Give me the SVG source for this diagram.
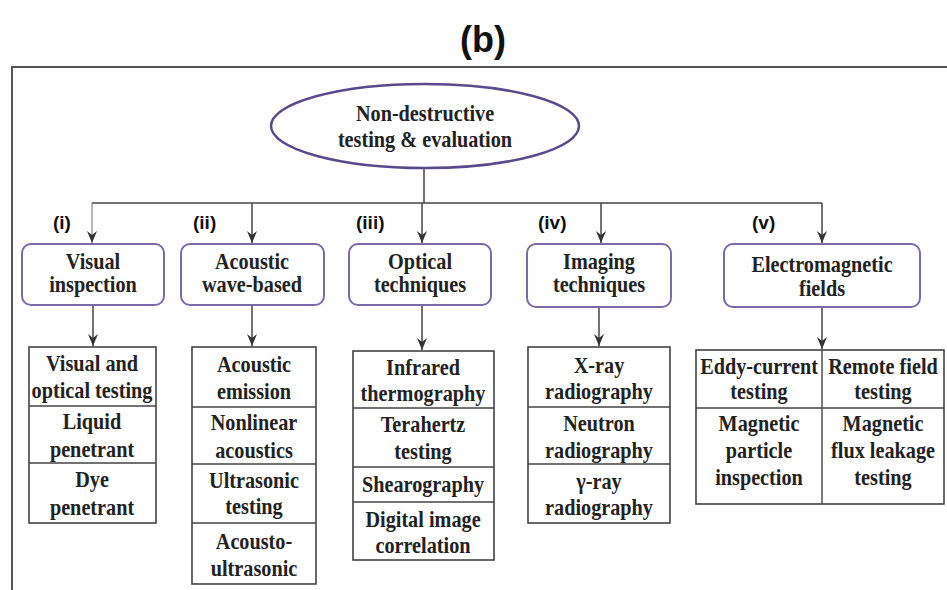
<svg xmlns="http://www.w3.org/2000/svg" width="947" height="590" viewBox="0 0 947 590">
  <style>
    .title { font-family: "Liberation Sans", Arial, sans-serif; font-weight: bold; fill: #111; }
    .tag { font-family: "Liberation Sans", Arial, sans-serif; font-weight: bold; font-size: 19px; fill: #111; }
    .t { font-family: "Liberation Serif", "Times New Roman", serif; font-weight: bold; font-size: 23px; fill: #222; text-anchor: middle;
         transform-box: fill-box; transform-origin: center; transform: scaleX(0.88); }
    .cat { fill: #fff; stroke: #7a6aa8; stroke-width: 2; }
    .cell { fill: #fff; stroke: #444; stroke-width: 1.6; }
    .div { stroke: #444; stroke-width: 1.4; fill: none; }
    .wire { stroke: #444; stroke-width: 1.5; fill: none; }
    .arrow { stroke: #444; stroke-width: 1.5; fill: none; marker-end: url(#head); }
    .faint { stroke: #888; stroke-width: 1.2; }
  </style>
  <defs>
    <!-- notched arrowhead, tip on the line end -->
    <marker id="head" viewBox="0 0 12 10" refX="12" refY="5" markerWidth="12" markerHeight="10" markerUnits="userSpaceOnUse" orient="auto">
      <path d="M0,0 L12,5 L0,10 L4,5 Z" fill="#333"/>
    </marker>
  </defs>

  <rect width="947" height="590" fill="#fff"/>

  <!-- panel title -->
  <text class="title" x="483" y="52" font-size="36" text-anchor="middle">(b)</text>

  <!-- panel frame -->
  <path d="M947,67 L12,67 L12,590" fill="none" stroke="#555" stroke-width="2"/>

  <!-- connectors -->
  <g id="connectors">
    <path class="wire" d="M424,168 L424,203"/>
    <path class="wire" d="M92,203 L822,203"/>
    <path class="arrow faint" d="M92,203 L92,243"/>
    <path class="arrow" d="M252,203 L252,243"/>
    <path class="arrow" d="M422,203 L422,243"/>
    <path class="arrow" d="M601,203 L601,243"/>
    <path class="arrow" d="M822,203 L822,243"/>
    <path class="arrow" d="M93,305 L93,346"/>
    <path class="arrow" d="M252,305 L252,346"/>
    <path class="arrow" d="M422,305 L422,350"/>
    <path class="arrow" d="M599,307 L599,346"/>
    <path class="arrow" d="M822,307 L822,349"/>
  </g>

  <!-- root -->
  <g id="root">
    <ellipse cx="425" cy="126" rx="154" ry="42" fill="#fff" stroke="#5a4a8c" stroke-width="2.5"/>
    <text class="t" x="425" y="121">Non-destructive</text>
    <text class="t" x="425" y="147">testing &amp; evaluation</text>
  </g>

  <!-- category tags -->
  <g id="tags">
    <text class="tag" x="53" y="229">(i)</text>
    <text class="tag" x="193" y="229">(ii)</text>
    <text class="tag" x="356" y="229">(iii)</text>
    <text class="tag" x="538" y="229">(iv)</text>
    <text class="tag" x="752" y="229">(v)</text>
  </g>

  <!-- categories -->
  <g id="cat-visual">
    <rect class="cat" x="22" y="244" width="142" height="61" rx="9"/>
    <text class="t" x="93" y="269">Visual</text>
    <text class="t" x="93" y="292">inspection</text>
  </g>
  <g id="cat-acoustic">
    <rect class="cat" x="181" y="244" width="143" height="61" rx="9"/>
    <text class="t" x="252" y="269">Acoustic</text>
    <text class="t" x="252" y="292">wave-based</text>
  </g>
  <g id="cat-optical">
    <rect class="cat" x="349" y="244" width="142" height="61" rx="9"/>
    <text class="t" x="420" y="269">Optical</text>
    <text class="t" x="420" y="292">techniques</text>
  </g>
  <g id="cat-imaging">
    <rect class="cat" x="527" y="244" width="144" height="63" rx="9"/>
    <text class="t" x="599" y="269">Imaging</text>
    <text class="t" x="599" y="292">techniques</text>
  </g>
  <g id="cat-em">
    <rect class="cat" x="724" y="244" width="196" height="63" rx="9"/>
    <text class="t" x="822" y="272">Electromagnetic</text>
    <text class="t" x="822" y="296">fields</text>
  </g>

  <!-- method lists -->
  <g id="list-visual">
    <rect class="cell" x="29" y="347" width="127" height="176"/>
    <path class="div" d="M29,406 H156 M29,463 H156"/>
    <text class="t" x="92" y="371">Visual and</text>
    <text class="t" x="92" y="398">optical testing</text>
    <text class="t" x="92" y="429">Liquid</text>
    <text class="t" x="92" y="457">penetrant</text>
    <text class="t" x="92" y="487">Dye</text>
    <text class="t" x="92" y="515">penetrant</text>
  </g>
  <g id="list-acoustic">
    <rect class="cell" x="192" y="347" width="124" height="237"/>
    <path class="div" d="M192,407 H316 M192,464 H316 M192,523 H316"/>
    <text class="t" x="254" y="372">Acoustic</text>
    <text class="t" x="254" y="399">emission</text>
    <text class="t" x="254" y="430">Nonlinear</text>
    <text class="t" x="254" y="458">acoustics</text>
    <text class="t" x="254" y="488">Ultrasonic</text>
    <text class="t" x="254" y="514">testing</text>
    <text class="t" x="254" y="549">Acousto-</text>
    <text class="t" x="254" y="576">ultrasonic</text>
  </g>
  <g id="list-optical">
    <rect class="cell" x="353" y="351" width="141" height="209"/>
    <path class="div" d="M353,408 H494 M353,467 H494 M353,502 H494"/>
    <text class="t" x="423" y="375">Infrared</text>
    <text class="t" x="423" y="401">thermography</text>
    <text class="t" x="423" y="432">Terahertz</text>
    <text class="t" x="423" y="459">testing</text>
    <text class="t" x="423" y="492">Shearography</text>
    <text class="t" x="423" y="527">Digital image</text>
    <text class="t" x="423" y="553">correlation</text>
  </g>
  <g id="list-imaging">
    <rect class="cell" x="528" y="347" width="142" height="176"/>
    <path class="div" d="M528,407 H670 M528,464 H670"/>
    <text class="t" x="599" y="373">X-ray</text>
    <text class="t" x="599" y="399">radiography</text>
    <text class="t" x="599" y="431">Neutron</text>
    <text class="t" x="599" y="458">radiography</text>
    <text class="t" x="599" y="489">γ-ray</text>
    <text class="t" x="599" y="515">radiography</text>
  </g>
  <g id="list-em">
    <rect class="cell" x="696" y="350" width="248" height="154"/>
    <path class="div" d="M822,350 V504 M696,408 H944"/>
    <text class="t" x="759" y="374">Eddy-current</text>
    <text class="t" x="759" y="399">testing</text>
    <text class="t" x="759" y="431">Magnetic</text>
    <text class="t" x="759" y="458">particle</text>
    <text class="t" x="759" y="485">inspection</text>
    <text class="t" x="883" y="374">Remote field</text>
    <text class="t" x="883" y="399">testing</text>
    <text class="t" x="883" y="431">Magnetic</text>
    <text class="t" x="883" y="458">flux leakage</text>
    <text class="t" x="883" y="485">testing</text>
  </g>
</svg>
